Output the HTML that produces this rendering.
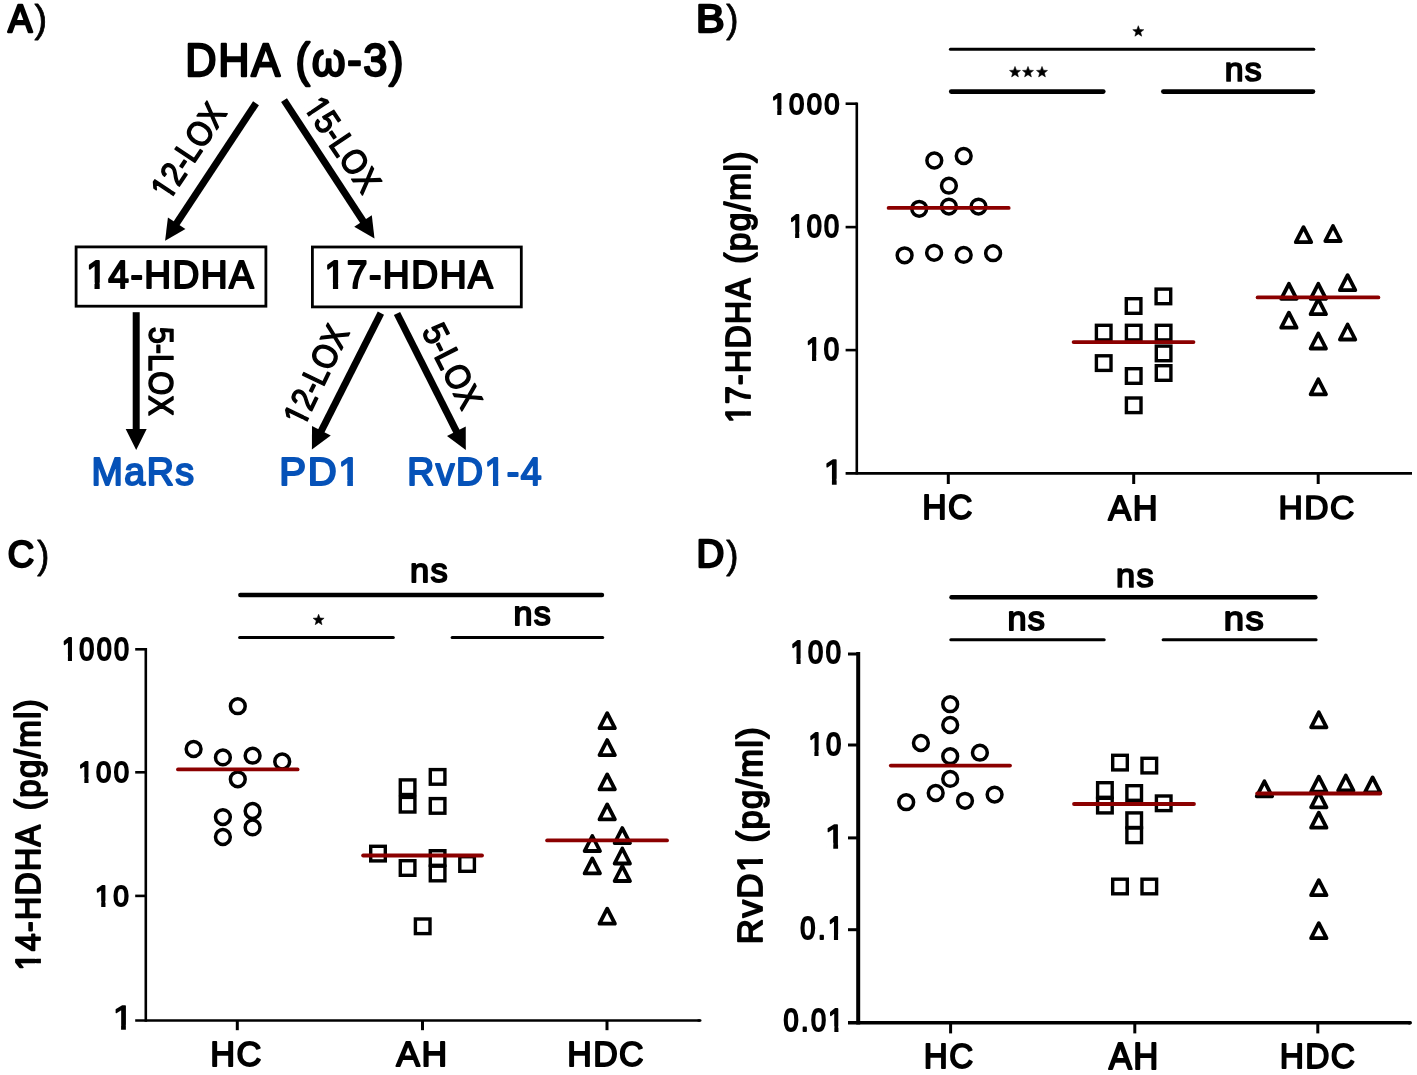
<!DOCTYPE html>
<html><head><meta charset="utf-8"><title>Figure</title>
<style>
html,body{margin:0;padding:0;background:#fff;}
body{width:1417px;height:1075px;overflow:hidden;}
svg{display:block;filter:blur(0.5px);}
svg text{font-family:"Liberation Sans", sans-serif;font-kerning:none;}
</style></head>
<body>
<svg width="1417" height="1075" viewBox="0 0 1417 1075">
<rect width="1417" height="1075" fill="#fff"/>
<g transform="translate(7.88,32.15) scale(0.9584,1)"><text font-size="38.08" font-weight="normal" fill="#000" stroke="#000" stroke-width="2.3" stroke-linejoin="round">A</text></g>
<g transform="translate(34.58,32.37) scale(0.9843,1)"><text font-size="38.32" font-weight="normal" fill="#000" stroke="#000" stroke-width="0.8" stroke-linejoin="round">)</text></g>
<g transform="translate(185.22,75.63) scale(0.9524,1)"><text font-size="45.43" font-weight="normal" fill="#000" stroke="#000" stroke-width="2.34" stroke-linejoin="round" letter-spacing="1.82">DHA (&#969;-3)</text></g>
<line x1="256" y1="103.3" x2="176.14" y2="224.02" stroke="#000" stroke-width="7" stroke-linecap="butt"/>
<polygon points="165.1,240.7 167.93,217.39 185.44,228.98" fill="#000"/>
<line x1="284" y1="100.1" x2="363.55" y2="221.76" stroke="#000" stroke-width="7" stroke-linecap="butt"/>
<polygon points="374.5,238.5 354.22,226.67 371.8,215.18" fill="#000"/>
<g transform="translate(164,187.7) rotate(-56.529) scale(0.8889,1) translate(-10.12,11.94)"><text font-size="34.7" font-weight="normal" fill="#000" stroke="#000" stroke-width="1.5" stroke-linejoin="round">12-LOX</text><path d="M0.99 -4.94H7.98V1.95H0.99ZM12.55 -4.94H19.24V1.95H12.55Z" fill="#fff"/></g>
<g transform="translate(317.9,107.9) rotate(55.893) scale(0.8943,1) translate(-10.12,11.94)"><text font-size="34.7" font-weight="normal" fill="#000" stroke="#000" stroke-width="1.5" stroke-linejoin="round">15-LOX</text><path d="M0.99 -4.94H7.98V1.95H0.99ZM12.55 -4.94H19.24V1.95H12.55Z" fill="#fff"/></g>
<rect x="76.1" y="246.9" width="189.8" height="59.3" fill="none" stroke="#000" stroke-width="2.8"/>
<rect x="312.4" y="247" width="208.9" height="59.9" fill="none" stroke="#000" stroke-width="2.8"/>
<g transform="translate(86.13,288) scale(0.9565,1)"><text font-size="38.81" font-weight="normal" fill="#000" stroke="#000" stroke-width="2" stroke-linejoin="round" letter-spacing="1.55">14-HDHA</text><path d="M1.05 -5.5H8.76V2.2H1.05ZM14.19 -5.5H21.58V2.2H14.19Z" fill="#fff"/></g>
<g transform="translate(324.51,288.3) scale(0.9570,1)"><text font-size="38.95" font-weight="normal" fill="#000" stroke="#000" stroke-width="2" stroke-linejoin="round" letter-spacing="1.56">17-HDHA</text><path d="M1.06 -5.51H8.8V2.2H1.06ZM14.24 -5.51H21.65V2.2H14.24Z" fill="#fff"/></g>
<line x1="136.2" y1="312.2" x2="136.2" y2="430" stroke="#000" stroke-width="7" stroke-linecap="butt"/>
<polygon points="136.2,450 125.7,429 146.7,429" fill="#000"/>
<line x1="380.9" y1="313.1" x2="320.93" y2="431.65" stroke="#000" stroke-width="7" stroke-linecap="butt"/>
<polygon points="311.9,449.5 312.01,426.02 330.75,435.5" fill="#000"/>
<line x1="397" y1="313.5" x2="456.8" y2="432.14" stroke="#000" stroke-width="7" stroke-linecap="butt"/>
<polygon points="465.8,450 446.97,435.97 465.72,426.52" fill="#000"/>
<g transform="translate(161.15,335.2) rotate(90.000) scale(0.8910,1) translate(-9.62,11.85)"><text font-size="34.7" font-weight="normal" fill="#000" stroke="#000" stroke-width="1.5" stroke-linejoin="round">5-LOX</text></g>
<g transform="translate(296.8,414.4) rotate(-64.143) scale(0.8875,1) translate(-10.12,11.94)"><text font-size="34.7" font-weight="normal" fill="#000" stroke="#000" stroke-width="1.5" stroke-linejoin="round">12-LOX</text><path d="M0.99 -4.94H7.98V1.95H0.99ZM12.55 -4.94H19.24V1.95H12.55Z" fill="#fff"/></g>
<g transform="translate(435.7,333.4) rotate(63.041) scale(0.9032,1) translate(-9.62,11.85)"><text font-size="34.7" font-weight="normal" fill="#000" stroke="#000" stroke-width="1.5" stroke-linejoin="round">5-LOX</text></g>
<g transform="translate(91.42,485.4) scale(0.9659,1)"><text font-size="38.94" font-weight="normal" fill="#0652b8" stroke="#0652b8" stroke-width="2.01" stroke-linejoin="round" letter-spacing="1.56">MaRs</text></g>
<g transform="translate(279.31,485.4) scale(1.0303,1)"><text font-size="38.94" font-weight="normal" fill="#0652b8" stroke="#0652b8" stroke-width="2.01" stroke-linejoin="round" letter-spacing="1.56">PD1</text><path d="M58.26 -5.51H66V2.2H58.26ZM71.45 -5.51H78.86V2.2H71.45Z" fill="#fff"/></g>
<g transform="translate(407.23,485.4) scale(0.9619,1)"><text font-size="38.94" font-weight="normal" fill="#0652b8" stroke="#0652b8" stroke-width="2.01" stroke-linejoin="round" letter-spacing="1.56">RvD1-4</text><path d="M81.44 -5.51H89.18V2.2H81.44ZM94.63 -5.51H102.03V2.2H94.63Z" fill="#fff"/></g>
<g transform="translate(696.04,32.15) scale(1.1249,1)"><text font-size="38.08" font-weight="normal" fill="#000" stroke="#000" stroke-width="2.3" stroke-linejoin="round">B</text></g>
<g transform="translate(726.19,32.37) scale(0.9547,1)"><text font-size="38.32" font-weight="normal" fill="#000" stroke="#000" stroke-width="0.8" stroke-linejoin="round">)</text></g>
<line x1="856.8" y1="102.5" x2="856.8" y2="474.5" stroke="#000" stroke-width="2.6" stroke-linecap="butt"/>
<line x1="845.6" y1="103.7" x2="856.8" y2="103.7" stroke="#000" stroke-width="2.6" stroke-linecap="butt"/>
<line x1="845.6" y1="227.1" x2="856.8" y2="227.1" stroke="#000" stroke-width="2.6" stroke-linecap="butt"/>
<line x1="845.6" y1="350.1" x2="856.8" y2="350.1" stroke="#000" stroke-width="2.6" stroke-linecap="butt"/>
<line x1="845.6" y1="473.3" x2="1412" y2="473.3" stroke="#000" stroke-width="2.7" stroke-linecap="butt"/>
<line x1="948.3" y1="473.3" x2="948.3" y2="484" stroke="#000" stroke-width="3" stroke-linecap="butt"/>
<line x1="1133.7" y1="473.3" x2="1133.7" y2="484" stroke="#000" stroke-width="3" stroke-linecap="butt"/>
<line x1="1318.2" y1="473.3" x2="1318.2" y2="484" stroke="#000" stroke-width="3" stroke-linecap="butt"/>
<g transform="translate(771.22,114.15) scale(0.9035,1)"><text font-size="30.34" font-weight="normal" fill="#000" stroke="#000" stroke-width="1.92" stroke-linejoin="round" letter-spacing="2.73">1000</text><path d="M0.45 -4.83H6.67V2.16H0.45ZM11.28 -4.83H17.24V2.16H11.28Z" fill="#fff"/></g>
<g transform="translate(789.17,236.72) scale(0.8767,1)"><text font-size="30.86" font-weight="normal" fill="#000" stroke="#000" stroke-width="1.95" stroke-linejoin="round" letter-spacing="2.78">100</text><path d="M0.47 -4.88H6.79V2.17H0.47ZM11.47 -4.88H17.52V2.17H11.47Z" fill="#fff"/></g>
<g transform="translate(805.95,360.38) scale(0.8662,1)"><text font-size="31.9" font-weight="normal" fill="#000" stroke="#000" stroke-width="2.02" stroke-linejoin="round" letter-spacing="2.87">10</text><path d="M0.52 -4.99H7.01V2.21H0.52ZM11.85 -4.99H18.08V2.21H11.85Z" fill="#fff"/></g>
<g transform="translate(823.72,483.55) scale(1.0403,1)"><text font-size="34.3" font-weight="normal" fill="#000" stroke="#000" stroke-width="1.5" stroke-linejoin="round">1</text><path d="M0.96 -4.91H7.88V1.95H0.96ZM12.41 -4.91H19.04V1.95H12.41Z" fill="#fff"/></g>
<g transform="translate(750.49,423.07) rotate(-90) scale(0.9082,1)"><text font-size="35.29" font-weight="normal" fill="#000" stroke="#000" stroke-width="1.82" stroke-linejoin="round" letter-spacing="1.41">17-HDHA</text><path d="M0.87 -5.15H7.96V2.11H0.87ZM12.91 -5.15H19.7V2.11H12.91Z" fill="#fff"/></g>
<g transform="translate(750.49,263.77) rotate(-90) scale(0.9498,1)"><text font-size="35.29" font-weight="normal" fill="#000" stroke="#000" stroke-width="1.82" stroke-linejoin="round" letter-spacing="1.41">(pg/ml)</text></g>
<g transform="translate(922.15,519.02) scale(0.9411,1)"><text font-size="35.94" font-weight="normal" fill="#000" stroke="#000" stroke-width="1.85" stroke-linejoin="round" letter-spacing="1.44">HC</text></g>
<g transform="translate(1108.32,519.61) scale(0.9984,1)"><text font-size="34.48" font-weight="normal" fill="#000" stroke="#000" stroke-width="1.78" stroke-linejoin="round" letter-spacing="1.38">AH</text></g>
<g transform="translate(1278.6,519.31) scale(1.0025,1)"><text font-size="33.57" font-weight="normal" fill="#000" stroke="#000" stroke-width="1.73" stroke-linejoin="round" letter-spacing="1.34">HDC</text></g>
<line x1="950.4" y1="49.3" x2="1313.8" y2="49.3" stroke="#000" stroke-width="3" stroke-linecap="round"/>
<line x1="951.2" y1="91.6" x2="1103.3" y2="91.6" stroke="#000" stroke-width="4.6" stroke-linecap="round"/>
<line x1="1163.3" y1="91.6" x2="1313" y2="91.6" stroke="#000" stroke-width="4.6" stroke-linecap="round"/>
<polygon points="1138.3,25.7 1139.77,29.48 1143.82,29.71 1140.68,32.27 1141.71,36.19 1138.3,34 1134.89,36.19 1135.92,32.27 1132.78,29.71 1136.83,29.48" fill="#000" stroke="#000" stroke-width="0.5" stroke-linejoin="round"/>
<polygon points="1015,66.4 1016.47,70.18 1020.52,70.41 1017.38,72.97 1018.41,76.89 1015,74.7 1011.59,76.89 1012.62,72.97 1009.48,70.41 1013.53,70.18" fill="#000" stroke="#000" stroke-width="0.5" stroke-linejoin="round"/>
<polygon points="1028,66.4 1029.47,70.18 1033.52,70.41 1030.38,72.97 1031.41,76.89 1028,74.7 1024.59,76.89 1025.62,72.97 1022.48,70.41 1026.53,70.18" fill="#000" stroke="#000" stroke-width="0.5" stroke-linejoin="round"/>
<polygon points="1042,66.4 1043.47,70.18 1047.52,70.41 1044.38,72.97 1045.41,76.89 1042,74.7 1038.59,76.89 1039.62,72.97 1036.48,70.41 1040.53,70.18" fill="#000" stroke="#000" stroke-width="0.5" stroke-linejoin="round"/>
<g transform="translate(1224.72,80.61) scale(1.0245,1)"><text font-size="32.97" font-weight="normal" fill="#000" stroke="#000" stroke-width="1.73" stroke-linejoin="round" letter-spacing="1.32">ns</text></g>
<circle cx="934.3" cy="160.5" r="7.4" fill="none" stroke="#000" stroke-width="3.5"/>
<circle cx="963.7" cy="156" r="7.4" fill="none" stroke="#000" stroke-width="3.5"/>
<circle cx="948.9" cy="185.7" r="7.4" fill="none" stroke="#000" stroke-width="3.5"/>
<circle cx="919.2" cy="208.8" r="7.4" fill="none" stroke="#000" stroke-width="3.5"/>
<circle cx="948.9" cy="206.6" r="7.4" fill="none" stroke="#000" stroke-width="3.5"/>
<circle cx="978.5" cy="206.6" r="7.4" fill="none" stroke="#000" stroke-width="3.5"/>
<circle cx="904.6" cy="255.3" r="7.4" fill="none" stroke="#000" stroke-width="3.5"/>
<circle cx="934.1" cy="252.8" r="7.4" fill="none" stroke="#000" stroke-width="3.5"/>
<circle cx="963.7" cy="254.9" r="7.4" fill="none" stroke="#000" stroke-width="3.5"/>
<circle cx="993.1" cy="253.2" r="7.4" fill="none" stroke="#000" stroke-width="3.5"/>
<rect x="1156.1" y="289.1" width="14.6" height="14.6" fill="none" stroke="#000" stroke-width="3.4"/>
<rect x="1126.3" y="298.7" width="14.6" height="14.6" fill="none" stroke="#000" stroke-width="3.4"/>
<rect x="1096.4" y="325.3" width="14.6" height="14.6" fill="none" stroke="#000" stroke-width="3.4"/>
<rect x="1126.4" y="325.3" width="14.6" height="14.6" fill="none" stroke="#000" stroke-width="3.4"/>
<rect x="1156.3" y="325.3" width="14.6" height="14.6" fill="none" stroke="#000" stroke-width="3.4"/>
<rect x="1156.3" y="346.1" width="14.6" height="14.6" fill="none" stroke="#000" stroke-width="3.4"/>
<rect x="1096.4" y="355.8" width="14.6" height="14.6" fill="none" stroke="#000" stroke-width="3.4"/>
<rect x="1126.4" y="368.7" width="14.6" height="14.6" fill="none" stroke="#000" stroke-width="3.4"/>
<rect x="1156.3" y="365.7" width="14.6" height="14.6" fill="none" stroke="#000" stroke-width="3.4"/>
<rect x="1126.4" y="398" width="14.6" height="14.6" fill="none" stroke="#000" stroke-width="3.4"/>
<polygon points="1303.5,227.2 1311.2,242.2 1295.8,242.2" fill="none" stroke="#000" stroke-width="3.8" stroke-linejoin="round"/>
<polygon points="1333,226 1340.7,241 1325.3,241" fill="none" stroke="#000" stroke-width="3.8" stroke-linejoin="round"/>
<polygon points="1288.9,283.8 1296.6,298.8 1281.2,298.8" fill="none" stroke="#000" stroke-width="3.8" stroke-linejoin="round"/>
<polygon points="1318.3,283.8 1326,298.8 1310.6,298.8" fill="none" stroke="#000" stroke-width="3.8" stroke-linejoin="round"/>
<polygon points="1347.6,275.2 1355.3,290.2 1339.9,290.2" fill="none" stroke="#000" stroke-width="3.8" stroke-linejoin="round"/>
<polygon points="1318.3,299.2 1326,314.2 1310.6,314.2" fill="none" stroke="#000" stroke-width="3.8" stroke-linejoin="round"/>
<polygon points="1288.9,312.7 1296.6,327.7 1281.2,327.7" fill="none" stroke="#000" stroke-width="3.8" stroke-linejoin="round"/>
<polygon points="1347.6,324.5 1355.3,339.5 1339.9,339.5" fill="none" stroke="#000" stroke-width="3.8" stroke-linejoin="round"/>
<polygon points="1318.3,333.5 1326,348.5 1310.6,348.5" fill="none" stroke="#000" stroke-width="3.8" stroke-linejoin="round"/>
<polygon points="1318.3,379.3 1326,394.3 1310.6,394.3" fill="none" stroke="#000" stroke-width="3.8" stroke-linejoin="round"/>
<line x1="888.6" y1="207.9" x2="1008.7" y2="207.9" stroke="#8b0000" stroke-width="3.8" stroke-linecap="round"/>
<line x1="1073.6" y1="342.1" x2="1193.5" y2="342.1" stroke="#8b0000" stroke-width="3.8" stroke-linecap="round"/>
<line x1="1257.6" y1="297.4" x2="1378.4" y2="297.4" stroke="#8b0000" stroke-width="3.8" stroke-linecap="round"/>
<g transform="translate(7.8,567.38) scale(0.9636,1)"><text font-size="37.85" font-weight="normal" fill="#000" stroke="#000" stroke-width="2.3" stroke-linejoin="round">C</text></g>
<g transform="translate(37.19,567.59) scale(0.9475,1)"><text font-size="38.21" font-weight="normal" fill="#000" stroke="#000" stroke-width="0.8" stroke-linejoin="round">)</text></g>
<line x1="145.8" y1="648" x2="145.8" y2="1021.8" stroke="#000" stroke-width="2.6" stroke-linecap="butt"/>
<line x1="135.2" y1="649.3" x2="145.8" y2="649.3" stroke="#000" stroke-width="2.6" stroke-linecap="butt"/>
<line x1="135.2" y1="772.3" x2="145.8" y2="772.3" stroke="#000" stroke-width="2.6" stroke-linecap="butt"/>
<line x1="135.2" y1="895.9" x2="145.8" y2="895.9" stroke="#000" stroke-width="2.6" stroke-linecap="butt"/>
<line x1="135.2" y1="1020.5" x2="700.2" y2="1020.5" stroke="#000" stroke-width="2.6" stroke-linecap="butt"/>
<line x1="698.5" y1="1020.5" x2="700.2" y2="1020.5" stroke="#000" stroke-width="2.6" stroke-linecap="round"/>
<line x1="237.3" y1="1020.5" x2="237.3" y2="1030.2" stroke="#000" stroke-width="3" stroke-linecap="butt"/>
<line x1="422.5" y1="1020.5" x2="422.5" y2="1030.2" stroke="#000" stroke-width="3" stroke-linecap="butt"/>
<line x1="607" y1="1020.5" x2="607" y2="1030.2" stroke="#000" stroke-width="3" stroke-linecap="butt"/>
<g transform="translate(61.99,659.92) scale(0.8714,1)"><text font-size="30.86" font-weight="normal" fill="#000" stroke="#000" stroke-width="1.95" stroke-linejoin="round" letter-spacing="2.78">1000</text><path d="M0.47 -4.88H6.79V2.17H0.47ZM11.47 -4.88H17.52V2.17H11.47Z" fill="#fff"/></g>
<g transform="translate(78.3,781.97) scale(0.9221,1)"><text font-size="29.82" font-weight="normal" fill="#000" stroke="#000" stroke-width="1.88" stroke-linejoin="round" letter-spacing="2.68">100</text><path d="M0.42 -4.77H6.56V2.14H0.42ZM11.08 -4.77H16.96V2.14H11.08Z" fill="#fff"/></g>
<g transform="translate(95.06,905.65) scale(0.9272,1)"><text font-size="30.21" font-weight="normal" fill="#000" stroke="#000" stroke-width="1.91" stroke-linejoin="round" letter-spacing="2.72">10</text><path d="M0.44 -4.81H6.64V2.15H0.44ZM11.23 -4.81H17.17V2.15H11.23Z" fill="#fff"/></g>
<g transform="translate(112.92,1029.45) scale(1.0863,1)"><text font-size="32.85" font-weight="normal" fill="#000" stroke="#000" stroke-width="1.5" stroke-linejoin="round">1</text><path d="M0.85 -4.8H7.51V1.95H0.85ZM11.92 -4.8H18.3V1.95H11.92Z" fill="#fff"/></g>
<g transform="translate(40.28,970.47) rotate(-90) scale(0.8987,1)"><text font-size="35.83" font-weight="normal" fill="#000" stroke="#000" stroke-width="1.85" stroke-linejoin="round" letter-spacing="1.43">14-HDHA</text><path d="M0.9 -5.2H8.09V2.12H0.9ZM13.11 -5.2H19.99V2.12H13.11Z" fill="#fff"/></g>
<g transform="translate(40.28,810.13) rotate(-90) scale(0.9240,1)"><text font-size="35.83" font-weight="normal" fill="#000" stroke="#000" stroke-width="1.85" stroke-linejoin="round" letter-spacing="1.43">(pg/ml)</text></g>
<g transform="translate(210.27,1065.77) scale(0.9971,1)"><text font-size="34.5" font-weight="normal" fill="#000" stroke="#000" stroke-width="1.78" stroke-linejoin="round" letter-spacing="1.38">HC</text></g>
<g transform="translate(396.32,1065.77) scale(1.0302,1)"><text font-size="34.5" font-weight="normal" fill="#000" stroke="#000" stroke-width="1.78" stroke-linejoin="round" letter-spacing="1.38">AH</text></g>
<g transform="translate(567.3,1065.77) scale(0.9846,1)"><text font-size="34.5" font-weight="normal" fill="#000" stroke="#000" stroke-width="1.78" stroke-linejoin="round" letter-spacing="1.38">HDC</text></g>
<line x1="240.3" y1="595" x2="602" y2="595" stroke="#000" stroke-width="4.4" stroke-linecap="round"/>
<line x1="239.6" y1="637.4" x2="393.3" y2="637.4" stroke="#000" stroke-width="3" stroke-linecap="round"/>
<line x1="452.1" y1="637.4" x2="602.7" y2="637.4" stroke="#000" stroke-width="3" stroke-linecap="round"/>
<polygon points="318.6,614.2 320.07,617.98 324.12,618.21 320.98,620.77 322.01,624.69 318.6,622.5 315.19,624.69 316.22,620.77 313.08,618.21 317.13,617.98" fill="#000" stroke="#000" stroke-width="0.5" stroke-linejoin="round"/>
<g transform="translate(410.09,581.89) scale(1.0294,1)"><text font-size="33.47" font-weight="normal" fill="#000" stroke="#000" stroke-width="1.76" stroke-linejoin="round" letter-spacing="1.34">ns</text></g>
<g transform="translate(513.53,624.97) scale(1.0046,1)"><text font-size="33.97" font-weight="normal" fill="#000" stroke="#000" stroke-width="1.79" stroke-linejoin="round" letter-spacing="1.36">ns</text></g>
<circle cx="237.8" cy="706.2" r="7.4" fill="none" stroke="#000" stroke-width="3.5"/>
<circle cx="193.6" cy="749" r="7.4" fill="none" stroke="#000" stroke-width="3.5"/>
<circle cx="222.9" cy="757.4" r="7.4" fill="none" stroke="#000" stroke-width="3.5"/>
<circle cx="252.6" cy="755.7" r="7.4" fill="none" stroke="#000" stroke-width="3.5"/>
<circle cx="282.2" cy="761.5" r="7.4" fill="none" stroke="#000" stroke-width="3.5"/>
<circle cx="237.8" cy="779.3" r="7.4" fill="none" stroke="#000" stroke-width="3.5"/>
<circle cx="222.9" cy="817.1" r="7.4" fill="none" stroke="#000" stroke-width="3.5"/>
<circle cx="252.6" cy="811" r="7.4" fill="none" stroke="#000" stroke-width="3.5"/>
<circle cx="252.6" cy="827.4" r="7.4" fill="none" stroke="#000" stroke-width="3.5"/>
<circle cx="222.9" cy="837" r="7.4" fill="none" stroke="#000" stroke-width="3.5"/>
<rect x="370.7" y="846.3" width="14.6" height="14.6" fill="none" stroke="#000" stroke-width="3.4"/>
<rect x="400.3" y="779.9" width="14.6" height="14.6" fill="none" stroke="#000" stroke-width="3.4"/>
<rect x="400.3" y="797.4" width="14.6" height="14.6" fill="none" stroke="#000" stroke-width="3.4"/>
<rect x="430.3" y="769.6" width="14.6" height="14.6" fill="none" stroke="#000" stroke-width="3.4"/>
<rect x="430.3" y="798.6" width="14.6" height="14.6" fill="none" stroke="#000" stroke-width="3.4"/>
<rect x="400.3" y="860.7" width="14.6" height="14.6" fill="none" stroke="#000" stroke-width="3.4"/>
<rect x="430.3" y="850.7" width="14.6" height="14.6" fill="none" stroke="#000" stroke-width="3.4"/>
<rect x="430.3" y="866.2" width="14.6" height="14.6" fill="none" stroke="#000" stroke-width="3.4"/>
<rect x="459.8" y="856.7" width="14.6" height="14.6" fill="none" stroke="#000" stroke-width="3.4"/>
<rect x="415.4" y="919" width="14.6" height="14.6" fill="none" stroke="#000" stroke-width="3.4"/>
<polygon points="607.2,713.2 614.9,728.2 599.5,728.2" fill="none" stroke="#000" stroke-width="3.8" stroke-linejoin="round"/>
<polygon points="607.2,740.1 614.9,755.1 599.5,755.1" fill="none" stroke="#000" stroke-width="3.8" stroke-linejoin="round"/>
<polygon points="607.2,774.4 614.9,789.4 599.5,789.4" fill="none" stroke="#000" stroke-width="3.8" stroke-linejoin="round"/>
<polygon points="607.2,804.4 614.9,819.4 599.5,819.4" fill="none" stroke="#000" stroke-width="3.8" stroke-linejoin="round"/>
<polygon points="592.3,836 600,851 584.6,851" fill="none" stroke="#000" stroke-width="3.8" stroke-linejoin="round"/>
<polygon points="622.3,828.1 630,843.1 614.6,843.1" fill="none" stroke="#000" stroke-width="3.8" stroke-linejoin="round"/>
<polygon points="622.3,848.5 630,863.5 614.6,863.5" fill="none" stroke="#000" stroke-width="3.8" stroke-linejoin="round"/>
<polygon points="592.3,858.4 600,873.4 584.6,873.4" fill="none" stroke="#000" stroke-width="3.8" stroke-linejoin="round"/>
<polygon points="622.3,866 630,881 614.6,881" fill="none" stroke="#000" stroke-width="3.8" stroke-linejoin="round"/>
<polygon points="607.2,908.7 614.9,923.7 599.5,923.7" fill="none" stroke="#000" stroke-width="3.8" stroke-linejoin="round"/>
<line x1="178" y1="769.4" x2="297.6" y2="769.4" stroke="#8b0000" stroke-width="3.8" stroke-linecap="round"/>
<line x1="363.1" y1="855.5" x2="482" y2="855.5" stroke="#8b0000" stroke-width="3.8" stroke-linecap="round"/>
<line x1="547.1" y1="840.4" x2="667" y2="840.4" stroke="#8b0000" stroke-width="3.8" stroke-linecap="round"/>
<g transform="translate(696.39,567.45) scale(1.0108,1)"><text font-size="38.08" font-weight="normal" fill="#000" stroke="#000" stroke-width="2.3" stroke-linejoin="round">D</text></g>
<g transform="translate(726.19,567.59) scale(0.9574,1)"><text font-size="38.21" font-weight="normal" fill="#000" stroke="#000" stroke-width="0.8" stroke-linejoin="round">)</text></g>
<line x1="858.2" y1="652" x2="858.2" y2="1024.5" stroke="#000" stroke-width="4" stroke-linecap="butt"/>
<line x1="848" y1="654" x2="858.2" y2="654" stroke="#000" stroke-width="3" stroke-linecap="butt"/>
<line x1="848" y1="745" x2="858.2" y2="745" stroke="#000" stroke-width="3" stroke-linecap="butt"/>
<line x1="848" y1="837.9" x2="858.2" y2="837.9" stroke="#000" stroke-width="3" stroke-linecap="butt"/>
<line x1="848" y1="929.7" x2="858.2" y2="929.7" stroke="#000" stroke-width="3" stroke-linecap="butt"/>
<line x1="848" y1="1022.8" x2="1410.3" y2="1022.8" stroke="#000" stroke-width="3.4" stroke-linecap="butt"/>
<line x1="1409" y1="1022.8" x2="1410.3" y2="1022.8" stroke="#000" stroke-width="3.4" stroke-linecap="round"/>
<line x1="950.6" y1="1022.7" x2="950.6" y2="1033.4" stroke="#000" stroke-width="3" stroke-linecap="butt"/>
<line x1="1134.8" y1="1022.7" x2="1134.8" y2="1033.4" stroke="#000" stroke-width="3" stroke-linecap="butt"/>
<line x1="1317.8" y1="1022.7" x2="1317.8" y2="1033.4" stroke="#000" stroke-width="3" stroke-linecap="butt"/>
<g transform="translate(790.48,663.49) scale(0.8616,1)"><text font-size="31.64" font-weight="normal" fill="#000" stroke="#000" stroke-width="2" stroke-linejoin="round" letter-spacing="2.85">100</text><path d="M0.51 -4.96H6.96V2.2H0.51ZM11.76 -4.96H17.94V2.2H11.76Z" fill="#fff"/></g>
<g transform="translate(808.39,755.17) scale(0.8500,1)"><text font-size="32.16" font-weight="normal" fill="#000" stroke="#000" stroke-width="2.03" stroke-linejoin="round" letter-spacing="2.89">10</text><path d="M0.53 -5.02H7.07V2.22H0.53ZM11.95 -5.02H18.22V2.22H11.95Z" fill="#fff"/></g>
<g transform="translate(825.12,847.55) scale(1.0863,1)"><text font-size="32.85" font-weight="normal" fill="#000" stroke="#000" stroke-width="1.5" stroke-linejoin="round">1</text><path d="M0.85 -4.8H7.51V1.95H0.85ZM11.92 -4.8H18.3V1.95H11.92Z" fill="#fff"/></g>
<g transform="translate(800.33,939.1) scale(0.8643,1)"><text font-size="31.51" font-weight="normal" fill="#000" stroke="#000" stroke-width="1.99" stroke-linejoin="round" letter-spacing="2.84">0.1</text><path d="M32.45 -4.95H38.88V2.2H32.45ZM43.66 -4.95H49.82V2.2H43.66Z" fill="#fff"/></g>
<g transform="translate(783.45,1031.28) scale(0.8450,1)"><text font-size="32.03" font-weight="normal" fill="#000" stroke="#000" stroke-width="2.02" stroke-linejoin="round" letter-spacing="2.88">0.01</text><path d="M53.69 -5H60.22V2.21H53.69ZM65.07 -5H71.32V2.21H65.07Z" fill="#fff"/></g>
<g transform="translate(762.38,944.26) rotate(-90) scale(0.9853,1)"><text font-size="35.56" font-weight="normal" fill="#000" stroke="#000" stroke-width="1.83" stroke-linejoin="round" letter-spacing="1.42">RvD1</text><path d="M74.29 -5.17H81.43V2.12H74.29ZM86.42 -5.17H93.25V2.12H86.42Z" fill="#fff"/></g>
<g transform="translate(762.38,842.41) rotate(-90) scale(0.9669,1)"><text font-size="35.56" font-weight="normal" fill="#000" stroke="#000" stroke-width="1.83" stroke-linejoin="round" letter-spacing="1.42">(pg/ml)</text></g>
<g transform="translate(923.87,1068.17) scale(0.9555,1)"><text font-size="34.76" font-weight="normal" fill="#000" stroke="#000" stroke-width="1.79" stroke-linejoin="round" letter-spacing="1.39">HC</text></g>
<g transform="translate(1108.67,1068.76) scale(0.9509,1)"><text font-size="36.51" font-weight="normal" fill="#000" stroke="#000" stroke-width="1.88" stroke-linejoin="round" letter-spacing="1.46">AH</text></g>
<g transform="translate(1279.74,1068.17) scale(0.9648,1)"><text font-size="34.76" font-weight="normal" fill="#000" stroke="#000" stroke-width="1.79" stroke-linejoin="round" letter-spacing="1.39">HDC</text></g>
<line x1="951.5" y1="597.2" x2="1315.4" y2="597.2" stroke="#000" stroke-width="4.4" stroke-linecap="round"/>
<line x1="950.8" y1="639.8" x2="1104.2" y2="639.8" stroke="#000" stroke-width="3" stroke-linecap="round"/>
<line x1="1163.1" y1="639.8" x2="1316.1" y2="639.8" stroke="#000" stroke-width="3" stroke-linecap="round"/>
<g transform="translate(1116.09,586.51) scale(1.0397,1)"><text font-size="32.97" font-weight="normal" fill="#000" stroke="#000" stroke-width="1.73" stroke-linejoin="round" letter-spacing="1.32">ns</text></g>
<g transform="translate(1007.41,629.99) scale(1.0234,1)"><text font-size="33.47" font-weight="normal" fill="#000" stroke="#000" stroke-width="1.76" stroke-linejoin="round" letter-spacing="1.34">ns</text></g>
<g transform="translate(1223.86,629.99) scale(1.0895,1)"><text font-size="33.47" font-weight="normal" fill="#000" stroke="#000" stroke-width="1.76" stroke-linejoin="round" letter-spacing="1.34">ns</text></g>
<circle cx="950.2" cy="704.2" r="7.4" fill="none" stroke="#000" stroke-width="3.5"/>
<circle cx="950.2" cy="725" r="7.4" fill="none" stroke="#000" stroke-width="3.5"/>
<circle cx="920.9" cy="743" r="7.4" fill="none" stroke="#000" stroke-width="3.5"/>
<circle cx="950.2" cy="756.2" r="7.4" fill="none" stroke="#000" stroke-width="3.5"/>
<circle cx="979.9" cy="752.7" r="7.4" fill="none" stroke="#000" stroke-width="3.5"/>
<circle cx="950.2" cy="778.9" r="7.4" fill="none" stroke="#000" stroke-width="3.5"/>
<circle cx="935.7" cy="793" r="7.4" fill="none" stroke="#000" stroke-width="3.5"/>
<circle cx="906.2" cy="802.2" r="7.4" fill="none" stroke="#000" stroke-width="3.5"/>
<circle cx="965" cy="800.8" r="7.4" fill="none" stroke="#000" stroke-width="3.5"/>
<circle cx="994.6" cy="794.6" r="7.4" fill="none" stroke="#000" stroke-width="3.5"/>
<rect x="1112.7" y="755.3" width="14.6" height="14.6" fill="none" stroke="#000" stroke-width="3.4"/>
<rect x="1142" y="758.3" width="14.6" height="14.6" fill="none" stroke="#000" stroke-width="3.4"/>
<rect x="1097.6" y="782.7" width="14.6" height="14.6" fill="none" stroke="#000" stroke-width="3.4"/>
<rect x="1097.6" y="798.3" width="14.6" height="14.6" fill="none" stroke="#000" stroke-width="3.4"/>
<rect x="1126.9" y="785.7" width="14.6" height="14.6" fill="none" stroke="#000" stroke-width="3.4"/>
<rect x="1156.4" y="796" width="14.6" height="14.6" fill="none" stroke="#000" stroke-width="3.4"/>
<rect x="1126.9" y="812.9" width="14.6" height="14.6" fill="none" stroke="#000" stroke-width="3.4"/>
<rect x="1126.9" y="828" width="14.6" height="14.6" fill="none" stroke="#000" stroke-width="3.4"/>
<rect x="1112.7" y="879.2" width="14.6" height="14.6" fill="none" stroke="#000" stroke-width="3.4"/>
<rect x="1142" y="879.2" width="14.6" height="14.6" fill="none" stroke="#000" stroke-width="3.4"/>
<polygon points="1318.8,712.3 1326.5,727.3 1311.1,727.3" fill="none" stroke="#000" stroke-width="3.8" stroke-linejoin="round"/>
<polygon points="1264.4,781.3 1272.1,796.3 1256.7,796.3" fill="none" stroke="#000" stroke-width="3.8" stroke-linejoin="round"/>
<polygon points="1318.8,776.7 1326.5,791.7 1311.1,791.7" fill="none" stroke="#000" stroke-width="3.8" stroke-linejoin="round"/>
<polygon points="1345.8,775.5 1353.5,790.5 1338.1,790.5" fill="none" stroke="#000" stroke-width="3.8" stroke-linejoin="round"/>
<polygon points="1372.6,777.4 1380.3,792.4 1364.9,792.4" fill="none" stroke="#000" stroke-width="3.8" stroke-linejoin="round"/>
<polygon points="1318.8,792.3 1326.5,807.3 1311.1,807.3" fill="none" stroke="#000" stroke-width="3.8" stroke-linejoin="round"/>
<polygon points="1318.8,812.7 1326.5,827.7 1311.1,827.7" fill="none" stroke="#000" stroke-width="3.8" stroke-linejoin="round"/>
<polygon points="1318.8,880.2 1326.5,895.2 1311.1,895.2" fill="none" stroke="#000" stroke-width="3.8" stroke-linejoin="round"/>
<polygon points="1318.8,923.2 1326.5,938.2 1311.1,938.2" fill="none" stroke="#000" stroke-width="3.8" stroke-linejoin="round"/>
<line x1="890.8" y1="765.6" x2="1010" y2="765.6" stroke="#8b0000" stroke-width="3.8" stroke-linecap="round"/>
<line x1="1074" y1="804" x2="1194" y2="804" stroke="#8b0000" stroke-width="3.8" stroke-linecap="round"/>
<line x1="1257.2" y1="793.5" x2="1380.3" y2="793.5" stroke="#8b0000" stroke-width="3.8" stroke-linecap="round"/>
</svg>
</body></html>
